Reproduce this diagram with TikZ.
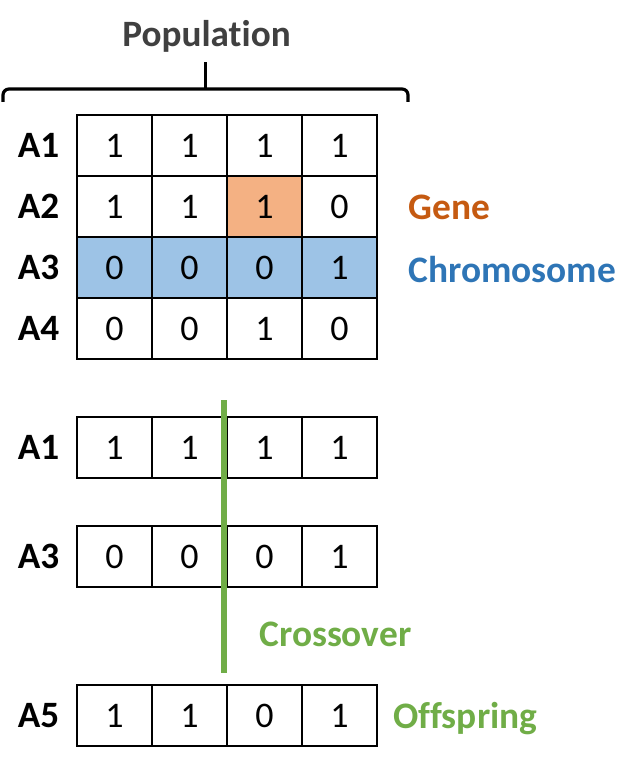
\documentclass[tikz,border=0pt]{standalone}
\usepackage{fontspec}
\setmainfont{Carlito}[Ligatures=NoCommon]
\usepackage{xcolor}
\definecolor{genefill}{HTML}{F4B183}
\definecolor{chromfill}{HTML}{9DC3E6}
\definecolor{genetext}{HTML}{C55A11}
\definecolor{chromtext}{HTML}{2E75B6}
\definecolor{crossgreen}{HTML}{70AD47}
\definecolor{popgray}{HTML}{404040}

\begin{document}
\begin{tikzpicture}[x=0.5pt,y=-0.5pt,line cap=round,
  cell/.style={draw,line width=1pt,minimum width=37.5pt,minimum height=30.5pt,inner sep=0pt,font=\fontsize{18}{20}\selectfont},
  rowlab/.style={inner sep=0pt,font=\fontsize{18.6}{20}\selectfont\bfseries},
  tag/.style={inner sep=0pt,anchor=base west,font=\fontsize{18.7}{20}\selectfont\bfseries}]
\useasboundingbox (0,0) rectangle (642,763);
% population
\node[rowlab,popgray,anchor=base] (poplab) at (206.5,47) {Population};
\draw[line width=1.6pt,rounded corners=3pt,line cap=butt] (3,102) -- (3,89) -- (408,89) -- (408,102);
\draw[line width=1.6pt,line cap=butt] (205.5,89) -- (205.5,62);
\node[rowlab] (lA1) at (38.5,145.5) {A1};
\node[rowlab] (lA2) at (38.5,206.5) {A2};
\node[rowlab] (lA3) at (38.5,267.5) {A3};
\node[rowlab] (lA4) at (38.5,328.5) {A4};
\node[cell] (pA1c1) at (114.5,145.5) {1};
\node[cell] (pA1c2) at (189.5,145.5) {1};
\node[cell] (pA1c3) at (264.5,145.5) {1};
\node[cell] (pA1c4) at (339.5,145.5) {1};
\node[cell] (pA2c1) at (114.5,206.5) {1};
\node[cell] (pA2c2) at (189.5,206.5) {1};
\node[cell,fill=genefill] (pA2c3) at (264.5,206.5) {1};
\node[cell] (pA2c4) at (339.5,206.5) {0};
\node[cell,fill=chromfill] (pA3c1) at (114.5,267.5) {0};
\node[cell,fill=chromfill] (pA3c2) at (189.5,267.5) {0};
\node[cell,fill=chromfill] (pA3c3) at (264.5,267.5) {0};
\node[cell,fill=chromfill] (pA3c4) at (339.5,267.5) {1};
\node[cell] (pA4c1) at (114.5,328.5) {0};
\node[cell] (pA4c2) at (189.5,328.5) {0};
\node[cell] (pA4c3) at (264.5,328.5) {1};
\node[cell] (pA4c4) at (339.5,328.5) {0};
\node[tag,genetext] (gene) at (408,220) {Gene};
\node[tag,chromtext] (chrom) at (408,283) {Chromosome};
% crossover
\node[rowlab] (xlA1) at (38.5,447.5) {A1};
\node[rowlab] (xlA3) at (38.5,556.5) {A3};
\node[rowlab] (olA5) at (38.5,715.5) {A5};
\node[cell] (xA1c1) at (114.5,447.5) {1};
\node[cell] (xA1c2) at (189.5,447.5) {1};
\node[cell] (xA1c3) at (264.5,447.5) {1};
\node[cell] (xA1c4) at (339.5,447.5) {1};
\node[cell] (xA3c1) at (114.5,556.5) {0};
\node[cell] (xA3c2) at (189.5,556.5) {0};
\node[cell] (xA3c3) at (264.5,556.5) {0};
\node[cell] (xA3c4) at (339.5,556.5) {1};
\node[cell] (oA5c1) at (114.5,715.5) {1};
\node[cell] (oA5c2) at (189.5,715.5) {1};
\node[cell] (oA5c3) at (264.5,715.5) {0};
\node[cell] (oA5c4) at (339.5,715.5) {1};
\draw[crossgreen,line width=3pt,line cap=butt] (224,400) -- (224,673);
\node[tag,crossgreen] (cross) at (259,646) {Crossover};
\node[tag,crossgreen] (offs) at (393,728) {Offspring};
\end{tikzpicture}
\end{document}
